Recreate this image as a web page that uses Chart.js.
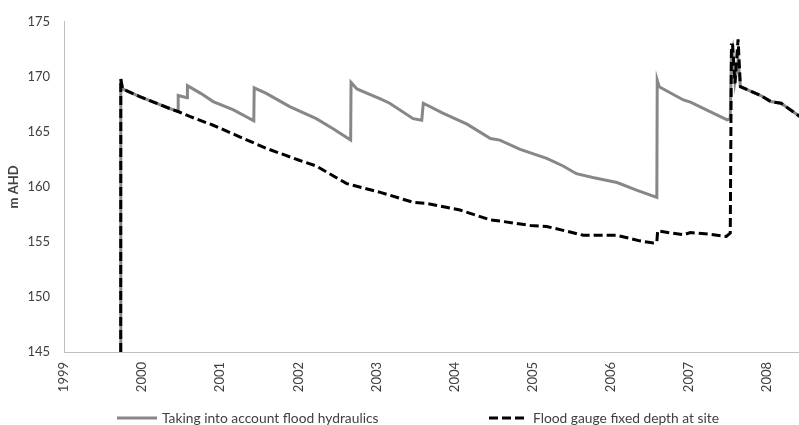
<!DOCTYPE html>
<html>
<head>
<meta charset="utf-8">
<script src="https://cdn.jsdelivr.net/npm/chart.js@4/dist/chart.umd.min.js"></script>
<style>
  html, body { margin: 0; padding: 0; background: #fff; }
  #wrap { width: 799px; height: 425px; position: relative; }
</style>
</head>
<body>
<div id="wrap"><canvas id="levelChart"></canvas></div>
<script>
// [decimal year, m AHD]
const hydraulicsSeries = [
  [1999.726, 145], [1999.727, 169.8], [1999.75, 168.9], [1999.97, 168.2], [2000.36, 167.1],
  [2000.46, 166.85], [2000.462, 168.3], [2000.575, 168.1], [2000.58, 169.2], [2000.75, 168.5],
  [2000.91, 167.75], [2001.17, 167.0], [2001.43, 166.0], [2001.435, 169.0], [2001.59, 168.5],
  [2001.89, 167.3], [2002.23, 166.2], [2002.44, 165.3], [2002.67, 164.25], [2002.675, 169.5],
  [2002.75, 168.9], [2003.05, 168.0], [2003.17, 167.6], [2003.47, 166.2], [2003.58, 166.05],
  [2003.60, 167.6], [2003.85, 166.7], [2004.16, 165.7], [2004.46, 164.4], [2004.58, 164.25],
  [2004.84, 163.4], [2005.18, 162.6], [2005.39, 161.9], [2005.56, 161.2], [2005.77, 160.85],
  [2006.08, 160.4], [2006.33, 159.7], [2006.59, 159.05], [2006.595, 169.7], [2006.62, 169.1],
  [2006.93, 167.9], [2007.02, 167.7], [2007.49, 166.1], [2007.53, 166.2], [2007.545, 172.0],
  [2007.56, 172.5], [2007.59, 169.6], [2007.63, 171.5], [2007.66, 169.1], [2007.92, 168.3],
  [2008.05, 167.75], [2008.18, 167.6], [2008.42, 166.4]
];

const gaugeSeries = [
  [1999.726, 145], [1999.727, 169.8], [1999.75, 168.9], [1999.97, 168.2], [2000.36, 167.1],
  [2000.46, 166.85], [2000.61, 166.4], [2000.91, 165.6], [2001.33, 164.3], [2001.59, 163.5],
  [2002.02, 162.4], [2002.23, 161.9], [2002.62, 160.3], [2002.70, 160.15], [2003.05, 159.5],
  [2003.47, 158.6], [2003.64, 158.5], [2004.07, 157.9], [2004.46, 157.0], [2004.58, 156.9],
  [2004.97, 156.5], [2005.18, 156.4], [2005.48, 155.9], [2005.65, 155.6], [2006.08, 155.6],
  [2006.37, 155.1], [2006.55, 154.9], [2006.59, 155.0], [2006.6, 156.0], [2006.93, 155.65],
  [2007.02, 155.85], [2007.27, 155.7], [2007.48, 155.5], [2007.53, 155.8], [2007.545, 172.9],
  [2007.56, 172.9], [2007.59, 169.4], [2007.63, 173.4], [2007.66, 169.1], [2007.92, 168.3],
  [2008.05, 167.75], [2008.18, 167.6], [2008.42, 166.4]
];

const yearTicks = [1999, 2000, 2001, 2002, 2003, 2004, 2005, 2006, 2007, 2008];
const seriesNames = ["Taking into account flood hydraulics", "Flood gauge fixed depth at site"];

const textColor = "#404040";
const axisColor = "#bfbfbf";
const fontFamily = "Lato, 'Noto Sans', sans-serif";

const toPoints = arr => arr.map(p => ({ x: p[0], y: p[1] }));

// legend drawn by hand so the spacing can match the original
const bottomLegend = {
  id: "bottomLegend",
  afterDraw(chart) {
    const ctx = chart.ctx;
    const y = 418;
    const items = [
      { x1: 117, x2: 157, tx: 162 },
      { x1: 489, x2: 525, tx: 533 }
    ];
    ctx.save();
    ctx.font = "13.8px " + fontFamily;
    ctx.textBaseline = "middle";
    chart.data.datasets.forEach((ds, i) => {
      const it = items[i];
      ctx.beginPath();
      ctx.setLineDash(ds.borderDash || []);
      ctx.lineWidth = ds.borderWidth;
      ctx.strokeStyle = ds.borderColor;
      ctx.moveTo(it.x1, y);
      ctx.lineTo(it.x2, y);
      ctx.stroke();
      ctx.setLineDash([]);
      ctx.fillStyle = textColor;
      ctx.fillText(ds.label, it.tx, y + 1);
    });
    ctx.restore();
  }
};

new Chart(document.getElementById("levelChart"), {
  type: "line",
  data: {
    datasets: [
      {
        label: seriesNames[0],
        data: toPoints(hydraulicsSeries),
        borderColor: "#878787",
        borderWidth: 3,
        pointRadius: 0,
        tension: 0,
        order: 2
      },
      {
        label: seriesNames[1],
        data: toPoints(gaugeSeries),
        borderColor: "#000000",
        borderWidth: 3,
        borderDash: [9, 4],
        pointRadius: 0,
        tension: 0,
        order: 1
      }
    ]
  },
  options: {
    responsive: true,
    maintainAspectRatio: false,
    animation: false,
    layout: { padding: { top: 17, right: 0, bottom: 33, left: 0 } },
    plugins: {
      legend: { display: false },
      tooltip: { enabled: false }
    },
    scales: {
      x: {
        type: "linear",
        min: 1999,
        max: 2008.41,
        grid: { display: false, drawTicks: false },
        border: { color: axisColor, width: 1 },
        afterBuildTicks: s => { s.ticks = yearTicks.map(v => ({ value: v })); },
        afterFit: s => { s.height = 40; },
        ticks: {
          autoSkip: false,
          minRotation: 90,
          maxRotation: 90,
          padding: 10,
          color: textColor,
          font: { family: fontFamily, size: 13 },
          callback: v => String(v)
        }
      },
      y: {
        min: 145,
        max: 175,
        grid: { display: false, drawTicks: false },
        border: { color: axisColor, width: 1 },
        afterFit: s => { s.width = 64; },
        ticks: {
          stepSize: 5,
          padding: 14,
          color: textColor,
          font: { family: fontFamily, size: 13 }
        },
        title: {
          display: true,
          text: "m AHD",
          color: textColor,
          padding: { top: 6, bottom: 0 },
          font: { family: fontFamily, size: 13, weight: "bold" }
        }
      }
    }
  },
  plugins: [bottomLegend]
});
</script>
</body>
</html>
